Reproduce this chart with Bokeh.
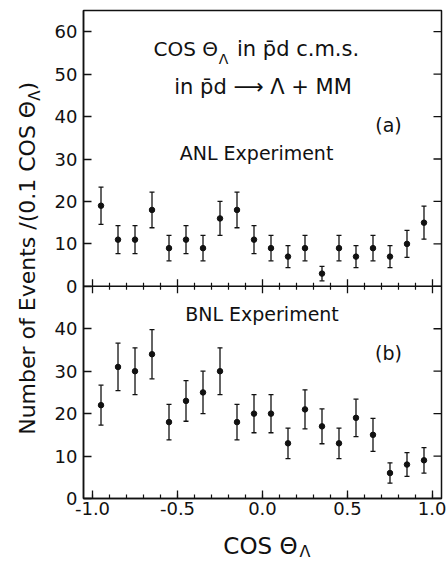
import numpy as np
from bokeh.plotting import figure
from bokeh.layouts import row, column
from bokeh.models import (Range1d, FixedTicker, PrintfTickFormatter,
                          Label, Span, ColumnDataSource)
from bokeh.embed import file_html
from bokeh.resources import INLINE

# ---------------- data ----------------
x_bins = [-0.95, -0.85, -0.75, -0.65, -0.55, -0.45, -0.35, -0.25, -0.15, -0.05,
          0.05, 0.15, 0.25, 0.35, 0.45, 0.55, 0.65, 0.75, 0.85, 0.95]
anl_counts = [19, 11, 11, 18, 9, 11, 9, 16, 18, 11, 9, 7, 9, 3, 9, 7, 9, 7, 10, 15]
anl_errors = [4.4, 3.3, 3.3, 4.2, 3.0, 3.3, 3.0, 4.0, 4.2, 3.3,
              3.0, 2.6, 3.0, 1.7, 3.0, 2.6, 3.0, 2.6, 3.2, 3.9]
bnl_counts = [22, 31, 30, 34, 18, 23, 25, 30, 18, 20, 20, 13, 21, 17, 13, 19, 15, 6, 8, 9]
bnl_errors = [4.7, 5.6, 5.5, 5.8, 4.2, 4.8, 5.0, 5.5, 4.2, 4.5,
              4.5, 3.6, 4.6, 4.1, 3.6, 4.4, 3.9, 2.4, 2.8, 3.0]

x_major_ticks = [-1.0, -0.5, 0.0, 0.5, 1.0]
x_minor_ticks = [-1.0, -0.9, -0.8, -0.7, -0.6, -0.5, -0.4, -0.3, -0.2, -0.1, 0.0,
                 0.1, 0.2, 0.3, 0.4, 0.5, 0.6, 0.7, 0.8, 0.9, 1.0]
top_y_ticks = [0, 10, 20, 30, 40, 50, 60]
top_y_labels = ["0", "10", "20", "30", "40", "50", "60"]
bot_y_ticks = [0, 10, 20, 30, 40]
bot_y_labels = ["0", "10", "20", "30", "40"]

FONT = "DejaVu Sans"
BLACK = "#111111"

# ---------------- main figure ----------------
x_range = Range1d(-1.053, 1.053)
bot_range = Range1d(0, 115)
top_range = Range1d(-50, 65)
offset = -top_range.start

p = figure(width=396, height=524, output_backend="svg", toolbar_location=None,
           x_range=x_range, y_range=bot_range,
           min_border_left=33, min_border_right=5, min_border_top=10, min_border_bottom=26)
p.extra_y_ranges = {"top": top_range}
p.xgrid.visible = False
p.ygrid.visible = False
p.background_fill_color = "white"
p.border_fill_color = "white"
p.outline_line_color = BLACK
p.outline_line_width = 1.5

# bottom x axis
xa = p.xaxis[0]
xa.ticker = FixedTicker(ticks=x_major_ticks, minor_ticks=x_minor_ticks)
xa.formatter = PrintfTickFormatter(format="%.1f")
xa.major_tick_in = 8
xa.major_tick_out = 0
xa.minor_tick_in = 4
xa.minor_tick_out = 0
xa.major_label_standoff = 3
xa.major_label_text_font = FONT
xa.major_label_text_font_size = "18px"
xa.major_label_text_color = BLACK
xa.axis_line_color = BLACK
xa.axis_line_width = 1.5
xa.major_tick_line_color = BLACK
xa.minor_tick_line_color = BLACK
xa.major_tick_line_width = 1.3
xa.minor_tick_line_width = 1.2

# left y axis (both panels share one axis, top panel ticks shifted by the range offset)
y_ticks = list(bot_y_ticks) + [t + offset for t in top_y_ticks]
y_labels = list(bot_y_labels) + list(top_y_labels)
ya = p.yaxis[0]
ya.ticker = FixedTicker(ticks=y_ticks)
ya.major_label_overrides = {t: lab for t, lab in zip(y_ticks, y_labels)}
ya.major_tick_in = 8
ya.major_tick_out = 0
ya.minor_tick_in = 0
ya.minor_tick_out = 0
ya.major_label_standoff = 6
ya.major_label_text_font = FONT
ya.major_label_text_font_size = "18px"
ya.major_label_text_color = BLACK
ya.axis_line_color = BLACK
ya.axis_line_width = 1.5
ya.major_tick_line_color = BLACK
ya.major_tick_line_width = 1.3

# right-edge inward ticks (dash markers centred on the frame edge, outer half clipped)
p.scatter(x=[x_range.end] * len(y_ticks), y=y_ticks, marker="dash", size=16,
          line_color=BLACK, line_width=1.3)

# middle separator line with crossing ticks
p.add_layout(Span(location=0, dimension="width", y_range_name="top",
                  line_color=BLACK, line_width=1.5))
minor_only = [t for t in x_minor_ticks if t not in x_major_ticks]
p.scatter(x=x_major_ticks, y=[0] * len(x_major_ticks), marker="dash", angle=np.pi / 2,
          size=14, line_color=BLACK, line_width=1.3, y_range_name="top")
p.scatter(x=minor_only, y=[0] * len(minor_only), marker="dash", angle=np.pi / 2,
          size=7, line_color=BLACK, line_width=1.2, y_range_name="top")


def draw_series(counts, errors, rng):
    c = np.array(counts, dtype=float)
    e = np.array(errors, dtype=float)
    src = ColumnDataSource(dict(x=x_bins, y=c, lo=c - e, hi=c + e))
    kw = {} if rng is None else {"y_range_name": rng}
    p.segment(x0="x", y0="lo", x1="x", y1="hi", source=src, line_color=BLACK,
              line_width=1.3, **kw)
    p.scatter(x="x", y="lo", source=src, marker="dash", size=5, line_color=BLACK,
              line_width=1.3, **kw)
    p.scatter(x="x", y="hi", source=src, marker="dash", size=5, line_color=BLACK,
              line_width=1.3, **kw)
    p.scatter(x="x", y="y", source=src, marker="circle", size=5.5, fill_color=BLACK,
              line_color=BLACK, **kw)


draw_series(anl_counts, anl_errors, "top")
draw_series(bnl_counts, bnl_errors, None)


def lab(fig, x, y, text, size, align="left", baseline="middle", rng=None, angle=0.0):
    kw = {} if rng is None else {"y_range_name": rng}
    fig.add_layout(Label(x=x, y=y, text=text, text_font=FONT, text_font_size=size,
                         text_color=BLACK, text_align=align, text_baseline=baseline,
                         angle=angle, **kw))


# top panel texts
lab(p, -0.262, 56.0, "COS Θ", "20px", align="right", rng="top")
lab(p, -0.258, 53.6, "Λ", "14px", rng="top")
lab(p, -0.150, 56.0, "in p\u0304d c.m.s.", "21px", rng="top")
lab(p, 0.003, 47.0, "in p\u0304d \u27f6 Λ + MM", "21px", align="center", rng="top")
lab(p, 0.741, 37.9, "(a)", "19px", align="center", rng="top")
lab(p, -0.035, 31.4, "ANL Experiment", "19px", align="center", rng="top")

# bottom panel texts
lab(p, -0.003, 43.5, "BNL Experiment", "19px", align="center")
lab(p, 0.741, 34.3, "(b)", "19px", align="center")


def text_panel(w, h):
    f = figure(width=w, height=h, output_backend="svg", toolbar_location=None,
               x_range=Range1d(0, w), y_range=Range1d(0, h), min_border=0,
               x_axis_location=None, y_axis_location=None)
    f.outline_line_color = None
    f.background_fill_color = "white"
    f.border_fill_color = "white"
    f.xgrid.visible = False
    f.ygrid.visible = False
    return f


# y axis title (rotated), panel covers page x 0..50, y 0..524
yl = text_panel(50, 524)
lab(yl, 27, 427, "Number of Events /(0.1 COS Θ", "22px", align="right", angle=np.pi / 2)
lab(yl, 34, 427, "Λ", "15px", align="left", angle=np.pi / 2)
lab(yl, 27, 438, ")", "22px", align="left", angle=np.pi / 2)

# x axis title, panel covers page y 524..562
xl = text_panel(446, 38)
lab(xl, 297, 17, "COS Θ", "23px", align="right")
lab(xl, 299, 11, "Λ", "16px")

layout = column(row(yl, p), xl)
open("out.html", "w").write(file_html(layout, INLINE))
